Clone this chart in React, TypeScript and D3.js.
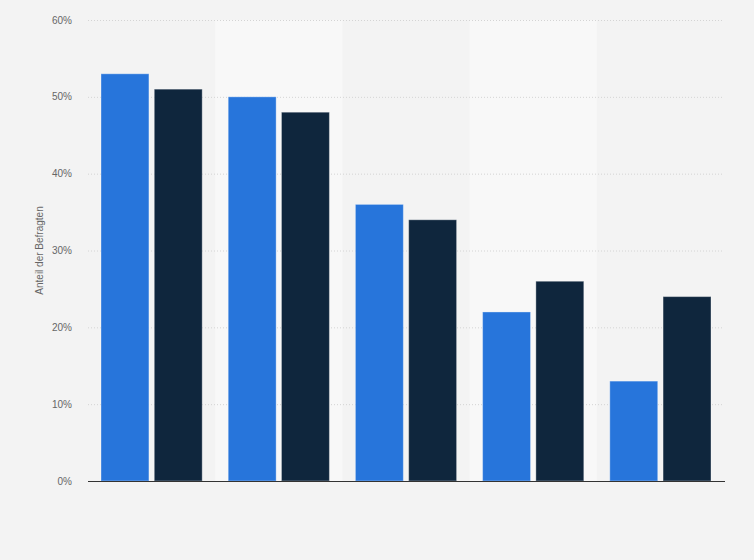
import { useRef, useEffect } from "react";
import * as d3 from "d3";

const categories = ["A", "B", "C", "D", "E"];
const seriesBlue = [53, 50, 36, 22, 13];
const seriesDark = [51, 48, 34, 26, 24];
const yTicks = [0, 10, 20, 30, 40, 50, 60];

const width = 754;
const height = 560;
const margin = { top: 20, right: 30, bottom: 79, left: 88 };

export default function App() {
  const ref = useRef<SVGSVGElement | null>(null);

  useEffect(() => {
    document.body.style.margin = "0";
    if (!ref.current) return;
    const svg = d3.select(ref.current);
    svg.selectAll("*").remove();

    const x0 = d3
      .scaleBand<string>()
      .domain(categories)
      .range([margin.left, width - margin.right]);

    const x1 = d3
      .scaleBand<string>()
      .domain(["blue", "dark"])
      .range([13, x0.bandwidth() - 13])
      .paddingInner(0.1);

    const y = d3
      .scaleLinear()
      .domain([0, 60])
      .range([height - margin.bottom, margin.top]);

    // background
    svg
      .append("rect")
      .attr("width", width)
      .attr("height", height)
      .attr("fill", "#f3f3f3");

    // alternating bands
    svg
      .append("g")
      .selectAll("rect")
      .data(categories.filter((_, i) => i % 2 === 1))
      .join("rect")
      .attr("x", (d) => x0(d) ?? 0)
      .attr("y", margin.top)
      .attr("width", x0.bandwidth())
      .attr("height", y(0) - margin.top)
      .attr("fill", "#f8f8f8");

    // grid
    svg
      .append("g")
      .selectAll("line")
      .data(yTicks.filter((t) => t > 0))
      .join("line")
      .attr("x1", margin.left)
      .attr("x2", width - margin.right)
      .attr("y1", (d) => y(d) + 0.5)
      .attr("y2", (d) => y(d) + 0.5)
      .attr("stroke", "#d4d4d4")
      .attr("stroke-dasharray", "1,2");

    // tick labels
    svg
      .append("g")
      .selectAll("text")
      .data(yTicks)
      .join("text")
      .attr("x", 72)
      .attr("y", (d) => y(d))
      .attr("dy", "0.35em")
      .attr("text-anchor", "end")
      .attr("font-family", "Liberation Sans, Arial, sans-serif")
      .attr("font-size", 10)
      .attr("fill", "#666")
      .text((d) => `${d}%`);

    // axis title
    svg
      .append("text")
      .attr("transform", `translate(43,${(y(0) + y(60)) / 2}) rotate(-90)`)
      .attr("text-anchor", "middle")
      .attr("font-family", "Liberation Sans, Arial, sans-serif")
      .attr("font-size", 10)
      .attr("fill", "#666")
      .text("Anteil der Befragten");

    // bars
    const groups = svg
      .append("g")
      .selectAll("g")
      .data(categories.map((c, i) => ({ c, blue: seriesBlue[i], dark: seriesDark[i] })))
      .join("g")
      .attr("transform", (d) => `translate(${x0(d.c) ?? 0},0)`);

    groups
      .selectAll("rect")
      .data((d) => [
        { key: "blue", value: d.blue, color: "#2775db" },
        { key: "dark", value: d.dark, color: "#0f263d" },
      ])
      .join("rect")
      .attr("x", (d) => x1(d.key) ?? 0)
      .attr("y", (d) => y(d.value))
      .attr("width", x1.bandwidth())
      .attr("height", (d) => y(0) - y(d.value))
      .attr("fill", (d) => d.color)
      .attr("stroke", "rgba(255,255,255,0.35)")
      .attr("stroke-width", 1);

    // x axis line
    svg
      .append("line")
      .attr("x1", margin.left)
      .attr("x2", width - margin.right + 1)
      .attr("y1", y(0) + 0.5)
      .attr("y2", y(0) + 0.5)
      .attr("stroke", "#333")
      .attr("stroke-width", 1);
  }, []);

  return <svg ref={ref} width={width} height={height} style={{ display: "block" }} />;
}
